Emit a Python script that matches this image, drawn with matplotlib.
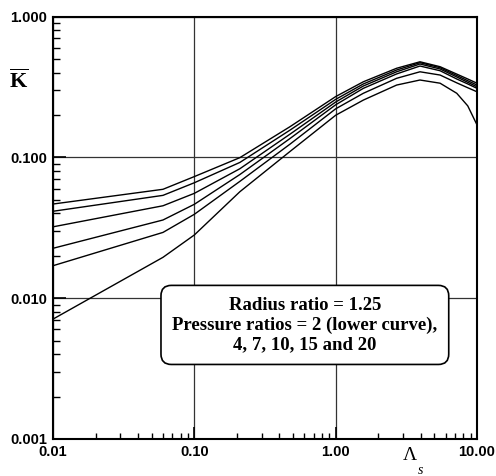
import matplotlib
matplotlib.use("Agg")
import matplotlib.pyplot as plt
from matplotlib.ticker import LogLocator, NullFormatter, FixedLocator, FixedFormatter

# Data (Lambda_s vs K-bar), one series per pressure ratio
lam = [0.01, 0.06, 0.1, 0.21, 0.475, 1.0, 1.57, 2.7, 3.95, 5.48, 7.19, 8.6, 10.0]
k_pr20 = [0.0466, 0.0593, 0.073, 0.0995, 0.165, 0.270, 0.344, 0.429, 0.477, 0.440, 0.390, 0.360, 0.336]
k_pr15 = [0.0414, 0.0537, 0.066, 0.092, 0.156, 0.258, 0.332, 0.417, 0.470, 0.433, 0.381, 0.350, 0.326]
k_pr10 = [0.0321, 0.0453, 0.0555, 0.083, 0.146, 0.247, 0.321, 0.405, 0.460, 0.424, 0.372, 0.341, 0.317]
k_pr7 = [0.0226, 0.0359, 0.0464, 0.0755, 0.136, 0.236, 0.309, 0.391, 0.445, 0.412, 0.360, 0.332, 0.309]
k_pr4 = [0.0170, 0.0293, 0.0394, 0.0675, 0.124, 0.221, 0.285, 0.364, 0.405, 0.384, 0.338, 0.312, 0.292]
k_pr2 = [0.0071, 0.0195, 0.0281, 0.057, 0.110, 0.199, 0.255, 0.326, 0.354, 0.336, 0.285, 0.232, 0.170]
series = [k_pr2, k_pr4, k_pr7, k_pr10, k_pr15, k_pr20]

xticks = [0.01, 0.1, 1.0, 10.0]
xticklabels = ["0.01", "0.10", "1.00", "10.00"]
yticks = [0.001, 0.01, 0.1, 1.0]
yticklabels = ["0.001", "0.010", "0.100", "1.000"]

plt.rcParams['mathtext.fontset'] = 'custom'
plt.rcParams['mathtext.rm'] = 'Liberation Serif:bold'
plt.rcParams['mathtext.it'] = 'Liberation Serif:italic'

fig = plt.figure(figsize=(4.96, 4.76), dpi=100)
ax = fig.add_axes([53/496, 37/476, 424/496, 422.5/476])

for s in series:
    ax.plot(lam, s, color='black', lw=1.0)

ax.set_xscale('log')
ax.set_yscale('log')
ax.set_xlim(0.01, 10)
ax.set_ylim(0.001, 1.0)

ax.grid(True, which='major', color='#333333', lw=0.9)

ax.xaxis.set_major_locator(FixedLocator(xticks))
ax.xaxis.set_major_formatter(FixedFormatter(xticklabels))
ax.yaxis.set_major_locator(FixedLocator(yticks))
ax.yaxis.set_major_formatter(FixedFormatter(yticklabels))
ax.xaxis.set_minor_locator(LogLocator(base=10, subs=range(2, 10)))
ax.yaxis.set_minor_locator(LogLocator(base=10, subs=range(2, 10)))
ax.xaxis.set_minor_formatter(NullFormatter())
ax.yaxis.set_minor_formatter(NullFormatter())

ax.tick_params(axis='both', which='both', direction='in', colors='black')
ax.tick_params(axis='x', which='minor', length=4, width=1)
ax.tick_params(axis='y', which='minor', length=5, width=1)
ax.tick_params(axis='both', which='major', length=9, width=1.2, pad=4)
for lab in ax.get_xticklabels() + ax.get_yticklabels():
    lab.set_fontfamily('Liberation Sans')
    lab.set_fontweight('bold')
    lab.set_fontsize(10.5)

for sp in ax.spines.values():
    sp.set_linewidth(1.5)

fig.text(19/496, 1 - 80/476, r'$\overline{\mathrm{K}}$', fontsize=16,
         ha='center', va='center')
fig.text(410/496, 1 - 456/476, '\u039b', fontsize=14, family='Liberation Serif',
         ha='center', va='center')
fig.text(421/496, 1 - 471/476, 's', fontsize=10, family='Liberation Serif',
         style='italic', ha='center', va='center')

ax.text(0.594, 0.270,
        "Radius ratio = 1.25\nPressure ratios = 2 (lower curve),\n4, 7, 10, 15 and 20",
        transform=ax.transAxes, ha='center', va='center', fontsize=13.5,
        family='Liberation Serif', fontweight='bold', linespacing=1.2,
        bbox=dict(boxstyle='round,pad=0.6,rounding_size=0.55', fc='white',
                  ec='black', lw=1.2), zorder=5)

fig.savefig('out.png', dpi=100)
